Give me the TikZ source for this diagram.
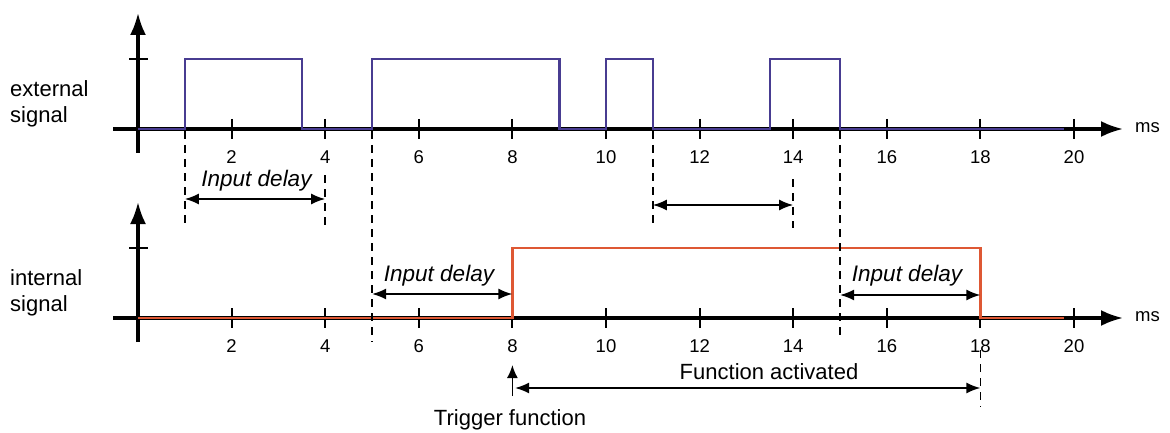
\documentclass[tikz,border=0pt]{standalone}
\usepackage{fontspec}
\setmainfont{Liberation Sans}
\usetikzlibrary{arrows.meta}
\definecolor{sigblue}{RGB}{72,60,145}
\definecolor{sigred}{RGB}{222,88,52}
\begin{document}
\begin{tikzpicture}[x=1pt,y=-1pt,
  axisline/.style={line width=3.1pt,-{Latex[length=22pt,width=16pt]}},
  tickmark/.style={line width=2.1pt},
  sigext/.style={sigblue,line width=2.6pt},
  sigint/.style={sigred,line width=2.6pt},
  guide/.style={line width=1.7pt,dash pattern=on 8pt off 6pt},
  span/.style={line width=1.8pt,{Latex[length=14pt,width=11pt]}-{Latex[length=14pt,width=11pt]}},
  lbl/.style={font=\fontsize{22}{26}\selectfont,inner sep=0pt},
  dlbl/.style={font=\fontsize{22.5}{26}\selectfont\itshape,inner sep=0pt},
  num/.style={font=\fontsize{18.5}{20}\selectfont,inner sep=0pt}]
\useasboundingbox (0,0) rectangle (1170,433);

% ---------- top chart (external signal) ----------
\coordinate (tx0) at (113,129);
\coordinate (tx1) at (1123,129);
\coordinate (ty0) at (138,153);
\coordinate (ty1) at (138,13);
\draw[axisline] (tx0) -- (tx1);
\draw[axisline] (ty0) -- (ty1);
\coordinate (tyt0) at (129,59);
\coordinate (tyt1) at (148,59);
\draw[tickmark] (tyt0) -- (tyt1);
\foreach \t in {2,4,...,20} {
  \pgfmathsetmacro\xx{138+46.8*\t}
  \draw[tickmark] (\xx,119) -- (\xx,139);
  \node[num] (tn\t) at (\xx,157.5) {\t};
}
\node[num,anchor=west] (tms) at (1135,128) {ms};

% external signal
\draw[sigext] (138,129) -- (184.8,129) -- (184.8,59) -- (301.8,59) -- (301.8,129)
  -- (372,129) -- (372,59) -- (559.2,59) -- (559.2,129)
  -- (606,129) -- (606,59) -- (652.8,59) -- (652.8,129)
  -- (769.8,129) -- (769.8,59) -- (840,59) -- (840,129) -- (1064,129);

% ---------- bottom chart (internal signal) ----------
\coordinate (bx0) at (113,318);
\coordinate (bx1) at (1123,318);
\coordinate (by0) at (138,342);
\coordinate (by1) at (138,202);
\draw[axisline] (bx0) -- (bx1);
\draw[axisline] (by0) -- (by1);
\coordinate (byt0) at (129,248);
\coordinate (byt1) at (148,248);
\draw[tickmark] (byt0) -- (byt1);
\foreach \t in {2,4,...,20} {
  \pgfmathsetmacro\xx{138+46.8*\t}
  \draw[tickmark] (\xx,308) -- (\xx,328);
  \node[num] (bn\t) at (\xx,346) {\t};
}
\node[num,anchor=west] (bms) at (1135,317) {ms};

% internal signal
\draw[sigint] (138,318) -- (512.4,318) -- (512.4,248) -- (980.4,248) -- (980.4,318) -- (1064,318);

% ---------- guide lines ----------
\coordinate (g1a) at (184.8,131); \coordinate (g1b) at (184.8,225);
\coordinate (g4a) at (325.2,175); \coordinate (g4b) at (325.2,225);
\coordinate (g5a) at (372,131);   \coordinate (g5b) at (372,342);
\coordinate (g11a) at (652.8,131); \coordinate (g11b) at (652.8,228);
\coordinate (g14a) at (793.2,179); \coordinate (g14b) at (793.2,228);
\coordinate (g15a) at (840,131);  \coordinate (g15b) at (840,340);
\coordinate (g18a) at (980.4,350); \coordinate (g18b) at (980.4,407);
\foreach \g in {1,4,5,11,14,15,18} {\draw[guide] (g\g a) -- (g\g b);}

% ---------- spans ----------
\coordinate (s1l) at (184.8,199); \coordinate (s1r) at (325.2,199);
\draw[span] (s1l) -- (s1r);
\node[dlbl] (d1) at (256.5,181) {Input delay};

\coordinate (s2l) at (652.8,205); \coordinate (s2r) at (793.2,205);
\draw[span] (s2l) -- (s2r);

\coordinate (s3l) at (372,294); \coordinate (s3r) at (512.4,294);
\draw[span] (s3l) -- (s3r);
\node[dlbl] (d3) at (439,276) {Input delay};

\coordinate (s4l) at (840,295); \coordinate (s4r) at (980.4,295);
\draw[span] (s4l) -- (s4r);
\node[dlbl] (d4) at (907,276) {Input delay};

\coordinate (s5l) at (515,388); \coordinate (s5r) at (980.4,388);
\draw[span] (s5l) -- (s5r);
\node[lbl] (fa) at (769,372) {Function activated};

\coordinate (trb) at (512.4,396); \coordinate (trt) at (512.4,365);
\draw[line width=1.8pt,-{Latex[length=13pt,width=11pt]}] (trb) -- (trt);
\node[lbl] (tf) at (510,420) {Trigger function};

% ---------- side labels ----------
\node[lbl,anchor=base west,align=left] (extlbl) at (10,123) {external\\signal};
\node[lbl,anchor=base west,align=left] (intlbl) at (10,311) {internal\\signal};
\end{tikzpicture}
\end{document}
